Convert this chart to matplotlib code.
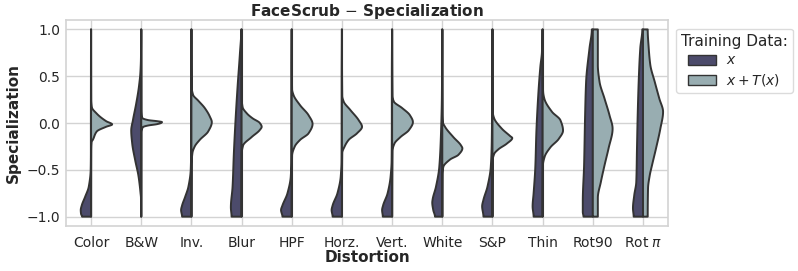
import numpy as np
import matplotlib
matplotlib.use("Agg")
import matplotlib.pyplot as plt
import seaborn as sns
from matplotlib.patches import Patch

# ---------------- data (relative density profiles) -------------
categories = ["Color", "B&W", "Inv.", "Blur", "HPF", "Horz.", "Vert.",
              "White", "S&P", "Thin", "Rot90", r"Rot $\pi$"]
series_names = ["$x$", "$x + T(x)$"]

# series "x": (specialization knots, relative density)
x_y = [
    [-1, -0.97, -0.93, -0.88, -0.79, -0.68, -0.5, -0.3, 0.0, 0.5, 1.0],
    [-1, -0.8, -0.75, -0.57, -0.4, -0.22, -0.08, 0.03, 0.21, 0.39, 0.55, 0.7, 1.0],
    [-1, -0.93, -0.88, -0.79, -0.68, -0.5, -0.3, 0.0, 0.5, 1.0],
    [-1, -0.9, -0.68, -0.32, 0.04, 0.39, 0.74, 1.0],
    [-1, -0.93, -0.88, -0.75, -0.57, -0.4, 0.0, 0.5, 1.0],
    [-1, -0.93, -0.88, -0.75, -0.57, -0.4, 0.0, 0.5, 1.0],
    [-1, -0.93, -0.88, -0.75, -0.57, -0.4, 0.0, 0.5, 1.0],
    [-1, -0.93, -0.85, -0.82, -0.68, -0.47, -0.11, 0.3, 1.0],
    [-1, -0.89, -0.82, -0.68, -0.47, -0.2, 0.3, 1.0],
    [-1, -0.89, -0.75, -0.47, -0.11, 0.24, 0.6, 0.76, 1.0],
    [-1, -0.95, -0.84, -0.45, 0.08, 0.44, 0.8, 1.0],
    [-1, -0.91, -0.77, -0.63, -0.27, 0.08, 0.44, 0.8, 1.0],
]
x_d = [
    [9, 10, 10.3, 9.3, 6, 2.3, 0.4, 0.2, 0.2, 0.15, 0.1],
    [0.2, 0.3, 0.7, 2.7, 6, 9, 10, 8.3, 5, 2.3, 0.8, 0.3, 0.1],
    [9.3, 10.3, 9.3, 6.3, 3, 0.7, 0.3, 0.3, 0.3, 0.1],
    [10, 10.7, 9, 7.7, 6, 4, 1.7, 0.3],
    [9.3, 10.7, 9.3, 4.3, 1, 0.4, 0.3, 0.3, 0.1],
    [9.3, 10.3, 9.3, 4.5, 1.2, 0.4, 0.3, 0.3, 0.1],
    [9.3, 10, 9, 4.5, 1.5, 0.5, 0.3, 0.3, 0.1],
    [7.3, 9, 10, 9.7, 6.3, 3, 1.3, 0.4, 0.1],
    [9, 10.3, 9, 5, 1.7, 0.7, 0.3, 0.1],
    [9, 10, 9, 7.3, 6.3, 4.7, 2.3, 0.7, 0.2],
    [9.3, 10, 10, 8.7, 7.7, 6.7, 3.3, 1],
    [9.3, 10, 8.7, 6.7, 6, 5.3, 4.3, 2.7, 0.7],
]

# series "x + T(x)"
xt_y = [
    [-1, -0.3, -0.2, -0.18, -0.09, -0.04, -0.015, 0.02, 0.10, 0.17, 0.25, 1.0],
    [-1, -0.1, -0.05, -0.04, -0.026, -0.012, 0.002, 0.01, 0.02, 0.031, 0.052, 0.07, 0.15, 1.0],
    [-1, -0.45, -0.32, -0.25, -0.18, -0.09, 0.01, 0.07, 0.16, 0.24, 0.30, 0.38, 1.0],
    [-1, -0.32, -0.24, -0.15, -0.076, -0.04, 0.002, 0.05, 0.10, 0.17, 0.25, 1.0],
    [-1, -0.35, -0.25, -0.18, -0.11, -0.01, 0.084, 0.19, 0.30, 0.36, 1.0],
    [-1, -0.32, -0.25, -0.18, -0.11, -0.04, 0.03, 0.14, 0.23, 0.29, 1.0],
    [-1, -0.3, -0.22, -0.15, -0.076, 0.01, 0.084, 0.16, 0.23, 0.29, 1.0],
    [-1, -0.55, -0.47, -0.39, -0.34, -0.27, -0.24, -0.15, -0.04, 0.01, 0.1, 1.0],
    [-1, -0.4, -0.33, -0.28, -0.22, -0.16, -0.14, -0.06, 0.05, 0.10, 0.2, 1.0],
    [-1, -0.45, -0.36, -0.26, -0.17, -0.08, 0.03, 0.12, 0.26, 0.33, 0.45, 1.0],
    [-1, -0.8, -0.63, -0.45, -0.27, -0.06, 0.08, 0.26, 0.44, 0.62, 1.0],
    [-1, -0.7, -0.56, -0.45, -0.27, -0.06, 0.12, 0.26, 0.44, 0.62, 0.8, 1.0],
]
xt_d = [
    [0, 0.1, 0.5, 1.7, 5.7, 15, 21, 15, 5.7, 0.7, 0.1, 0],
    [0, 0.05, 1.3, 2.3, 7, 15.7, 20, 20.7, 15.7, 7, 1.3, 0.5, 0.05, 0],
    [0, 0.1, 1, 3.3, 8.3, 16.7, 20.3, 18.3, 13.3, 6.7, 1.7, 0.3, 0],
    [0, 0.2, 1.5, 10, 18, 20, 18, 11, 5.5, 1, 0.2, 0],
    [0, 0.3, 3, 8.3, 16.7, 20.7, 16.7, 8.3, 1.7, 0.3, 0],
    [0, 0.3, 2.7, 6.7, 15, 20, 16.7, 8.3, 1.7, 0.3, 0],
    [0, 0.3, 2.3, 8.3, 16.7, 20.7, 17.7, 10, 1.7, 0.3, 0],
    [0, 0.1, 1, 7.7, 16, 20, 18.7, 11, 2.7, 0.5, 0.1, 0],
    [0, 0.2, 1.7, 6, 14.3, 19.7, 17.7, 9.3, 1.7, 0.5, 0.1, 0],
    [0, 0.3, 2, 7.7, 16, 20.3, 17.7, 9.3, 1.7, 0.5, 0.1, 0],
    [5, 5, 8, 11.7, 15.7, 19.7, 16.7, 11.7, 6.7, 5, 5],
    [4.7, 5, 6.7, 9, 13, 17.3, 20, 16.3, 11.7, 7.3, 5.7, 4.7],
]

yticks = [-1.0, -0.5, 0.0, 0.5, 1.0]

# ---------------- style -------------
sns.set_theme(style="whitegrid")
plt.rcParams["font.family"] = ["DejaVu Sans"]
plt.rcParams["mathtext.fontset"] = "dejavusans"

DARK = "#4c4b6b"
LIGHT = "#98adb1"
EDGE = "#333333"
HALF_WIDTH = 0.4 / 20.0   # data-units per density unit


def pchip(xk, yk, xn):
    xk = np.asarray(xk, float)
    yk = np.asarray(yk, float)
    h = np.diff(xk)
    d = np.diff(yk) / h
    m = np.zeros_like(yk)
    for k in range(1, len(xk) - 1):
        if d[k - 1] * d[k] > 0:
            w1 = 2 * h[k] + h[k - 1]
            w2 = h[k] + 2 * h[k - 1]
            m[k] = (w1 + w2) / (w1 / d[k - 1] + w2 / d[k])
    m[0] = 0.0
    m[-1] = 0.0
    idx = np.clip(np.searchsorted(xk, xn) - 1, 0, len(h) - 1)
    t = (xn - xk[idx]) / h[idx]
    h00 = 2 * t**3 - 3 * t**2 + 1
    h10 = t**3 - 2 * t**2 + t
    h01 = -2 * t**3 + 3 * t**2
    h11 = t**3 - t**2
    out = h00 * yk[idx] + h10 * h[idx] * m[idx] + h01 * yk[idx + 1] + h11 * h[idx] * m[idx + 1]
    return np.clip(out, 0, None)


fig = plt.figure(figsize=(7.98, 2.71), dpi=100)
ax = fig.add_axes([0.0827, 0.166, 0.7545, 0.760])

grid = np.linspace(-1, 1, 801)
for i, cat in enumerate(categories):
    for ys, ds, sign, col in ((x_y[i], x_d[i], -1, DARK), (xt_y[i], xt_d[i], 1, LIGHT)):
        w = pchip(ys, ds, grid) * HALF_WIDTH
        xs = np.concatenate([np.full(grid.size, float(i)), (i + sign * w)[::-1]])
        yy = np.concatenate([grid, grid[::-1]])
        ax.fill(xs, yy, facecolor=col, edgecolor=EDGE, linewidth=1.4, zorder=3,
                joinstyle="round")

ax.set_xlim(-0.5, len(categories) - 0.5)
ax.set_ylim(-1.1, 1.1)
ax.set_xticks(range(len(categories)))
ax.set_xticklabels(categories, fontsize=10)
ax.set_yticks(yticks)
ax.set_yticklabels([f"{v:.1f}".replace("-", "\u2212") for v in yticks], fontsize=10)
ax.tick_params(axis="x", length=0, pad=7)
ax.tick_params(axis="y", length=0, pad=4)
ax.grid(True, color="#d3d3d3", linewidth=1.0)
for s in ax.spines.values():
    s.set_color("#d3d3d3")
    s.set_linewidth(1.2)

ax.set_title(r"FaceScrub $-$ Specialization", fontsize=11, fontweight="bold", pad=3)
ax.set_xlabel("Distortion", fontsize=11, fontweight="bold", labelpad=0)
ax.set_ylabel("Specialization", fontsize=11, fontweight="bold", labelpad=4)

handles = [Patch(facecolor=DARK, edgecolor=EDGE, linewidth=1.0, label=series_names[0]),
           Patch(facecolor=LIGHT, edgecolor=EDGE, linewidth=1.0, label=series_names[1])]
leg = ax.legend(handles=handles, title="Training Data:", loc="upper left",
                bbox_to_anchor=(1.013, 0.958), borderaxespad=0, fontsize=10,
                title_fontsize=11, frameon=True, handlelength=2.0, handleheight=0.72,
                handletextpad=0.75, labelspacing=0.35, borderpad=0.35)
leg.get_frame().set_edgecolor("#d3d3d3")

fig.savefig("out.png", dpi=100)
